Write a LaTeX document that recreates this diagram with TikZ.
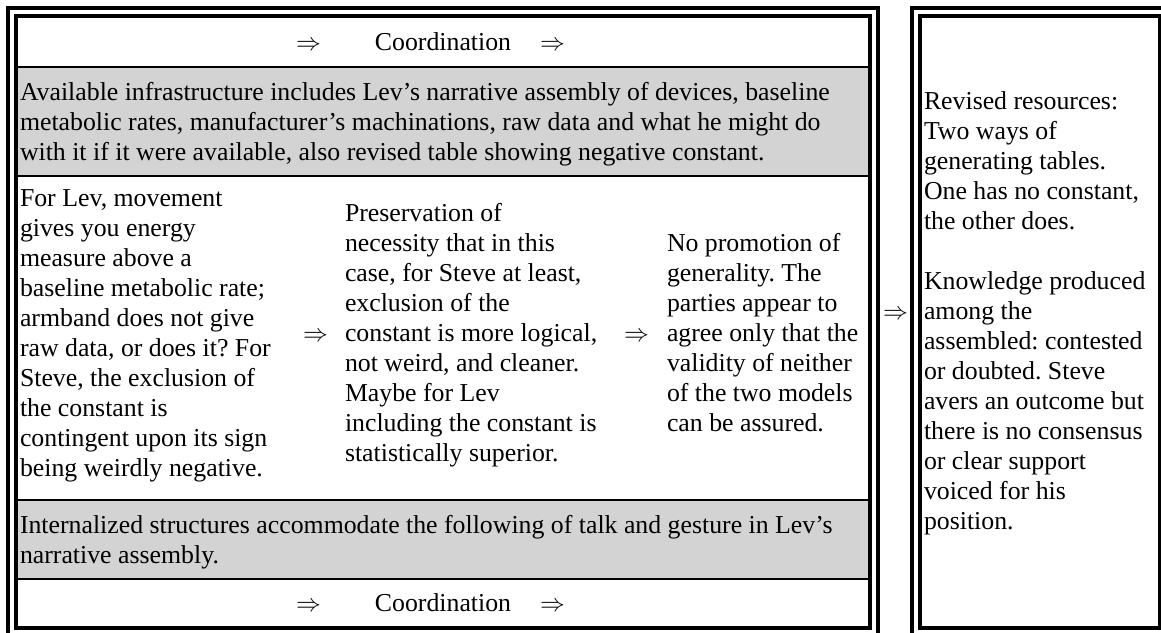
\documentclass[tikz,border=0pt]{standalone}
\usepackage{fontspec}
\setmainfont{Liberation Serif}
\frenchspacing
\definecolor{cellgray}{RGB}{211,211,211}
% one line box: 30pt tall, baseline 23.6pt below its top
\newcommand\lstr{\rule[-6.4pt]{0pt}{30pt}}
\newcommand\dbl{$\Rightarrow$}
\tikzset{
  txt/.style={inner sep=0pt, outer sep=0pt, align=left, anchor=west,
    font=\fontsize{25.8pt}{30pt}\selectfont},
  frame/.style={draw=black, line width=4pt},
  rule/.style={draw=black, line width=2pt},
}
\begin{document}
\begin{tikzpicture}[x=1pt, y=-1pt]
\useasboundingbox (0,0) rectangle (1161,632);

% shaded rows of the left table
\fill[cellgray] (18,68) rectangle (868,176);
\fill[cellgray] (18,501) rectangle (868,578);

% row separators
\draw[rule] (18,67) -- (868,67);
\draw[rule] (18,176) -- (868,176);
\draw[rule] (18,500) -- (868,500);
\draw[rule] (18,579) -- (868,579);

% double frame of the left table
\draw[frame] (8,8) rectangle (878,636);
\draw[frame] (16,16) rectangle (870,628);

% double frame of the right table
\draw[frame] (912,8) rectangle (1170,636);
\draw[frame] (920,16) rectangle (1160,628);

% top row
\node[txt] (ta1) at (296,42) {\lstr\dbl};
\node[txt, anchor=center] (tc) at (443,42) {\lstr Coordination};
\node[txt] (ta2) at (540,42) {\lstr\dbl};

% first shaded row
\node[txt] (infra) at (20,122) {\lstr Available infrastructure includes Lev’s narrative assembly of devices, baseline\\
\lstr metabolic rates, manufacturer’s machinations, raw data and what he might do\\
\lstr with it if it were available, also revised table showing negative constant.};

% middle row
\node[txt] (lev) at (20,333) {\lstr For Lev, movement\\
\lstr gives you energy\\
\lstr measure above a\\
\lstr baseline metabolic rate;\\
\lstr armband does not give\\
\lstr raw data, or does it? For\\
\lstr Steve, the exclusion of\\
\lstr the constant is\\
\lstr contingent upon its sign\\
\lstr being weirdly negative.};
\node[txt] (a1) at (303,333) {\lstr\dbl};
\node[txt] (pres) at (345,333) {\lstr Preservation of\\
\lstr necessity that in this\\
\lstr case, for Steve at least,\\
\lstr exclusion of the\\
\lstr constant is more logical,\\
\lstr not weird, and cleaner.\\
\lstr Maybe for Lev\\
\lstr including the constant is\\
\lstr statistically superior.};
\node[txt] (a2) at (624,333) {\lstr\dbl};
\node[txt] (gen) at (667,333) {\lstr No promotion of\\
\lstr generality. The\\
\lstr parties appear to\\
\lstr agree only that the\\
\lstr validity of neither\\
\lstr of the two models\\
\lstr can be assured.};

% second shaded row
\node[txt] (intern) at (20,539.5) {\lstr Internalized structures accommodate the following of talk and gesture in Lev’s\\
\lstr narrative assembly.};

% bottom row
\node[txt] (ba1) at (296,603) {\lstr\dbl};
\node[txt, anchor=center] (bc) at (443,603) {\lstr Coordination};
\node[txt] (ba2) at (540,603) {\lstr\dbl};

% link between the two tables
\node[txt] (a3) at (883,311) {\lstr\dbl};

% right table
\node[txt] (res) at (924,311) {\lstr Revised resources:\\
\lstr Two ways of\\
\lstr generating tables.\\
\lstr One has no constant,\\
\lstr the other does.\\
\lstr \\
\lstr Knowledge produced\\
\lstr among the\\
\lstr assembled: contested\\
\lstr or doubted. Steve\\
\lstr avers an outcome but\\
\lstr there is no consensus\\
\lstr or clear support\\
\lstr voiced for his\\
\lstr position.};
\end{tikzpicture}
\end{document}
